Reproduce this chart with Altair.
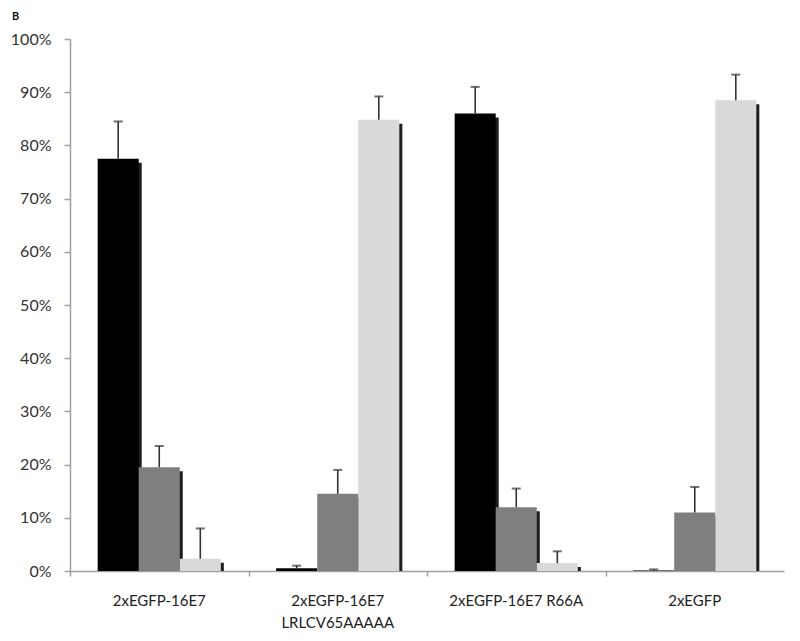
import altair as alt
import pandas as pd

groups = ["2xEGFP-16E7", "2xEGFP-16E7|LRLCV65AAAAA", "2xEGFP-16E7 R66A", "2xEGFP"]
series = ["Series 1", "Series 2", "Series 3"]
colors = ["#000000", "#7f7f7f", "#d9d9d9"]

# values (fraction) per series, ordered by groups
s1_vals = [0.775, 0.005, 0.860, 0.001]
s1_errs = [0.845, 0.010, 0.910, 0.003]
s2_vals = [0.195, 0.145, 0.120, 0.110]
s2_errs = [0.235, 0.190, 0.155, 0.158]
s3_vals = [0.023, 0.848, 0.015, 0.885]
s3_errs = [0.080, 0.892, 0.037, 0.933]

rows = []
for s, vals, errs in zip(series, [s1_vals, s2_vals, s3_vals], [s1_errs, s2_errs, s3_errs]):
    for g, v, e in zip(groups, vals, errs):
        rows.append({"group": g, "series": s, "value": v, "err": e})
df = pd.DataFrame(rows)

FONT = "Lato"
W, H = 714, 532
P_IN, P_OUT = 0.31, 0.155
STEP = W / (len(groups) - P_IN + 2 * P_OUT)
BW = STEP * (1 - P_IN)
SHADOW_DX = 3

x_scale = alt.Scale(paddingInner=P_IN, paddingOuter=P_OUT)


def x_enc(axis):
    return alt.X("group:N", sort=groups, title=None, scale=x_scale, axis=axis)


label_axis = alt.Axis(orient="bottom", labelExpr="split(datum.label, '|')", labelAngle=0,
                      labelFontSize=15, labelColor="#222", labelFont=FONT,
                      labelPadding=22, ticks=False, domainColor="#a0a0a0",
                      domainWidth=1.5, labelLineHeight=22)
tick_axis = alt.Axis(orient="bottom", labels=False, domain=False, ticks=True,
                     bandPosition=0, tickOffset=-P_IN * STEP / 2,
                     tickSize=5, tickColor="#a0a0a0", tickWidth=1.5)

xo_enc = alt.XOffset("series:N", sort=series, scale=alt.Scale(paddingInner=0, paddingOuter=0))
xo_shadow = alt.XOffset("series:N", sort=series,
                        scale=alt.Scale(paddingInner=0, paddingOuter=0,
                                        range=[SHADOW_DX, BW + SHADOW_DX]))
y_enc = alt.Y("value:Q", title=None,
              scale=alt.Scale(domain=[0, 1], nice=False),
              axis=alt.Axis(format="%", values=[i / 10 for i in range(11)], grid=False,
                            labelFontSize=16, labelColor="#333", labelFont=FONT,
                            domainColor="#a0a0a0", domainWidth=1.5, tickColor="#a0a0a0",
                            tickSize=6, tickWidth=1.5, labelPadding=13))
color_enc = alt.Color("series:N", sort=series,
                      scale=alt.Scale(domain=series, range=colors), legend=None)

base = alt.Chart(df)

shadow = base.transform_filter("datum.value > 0.01").mark_bar(
    color="#1e1e1e", yOffset=4
).encode(
    x=x_enc(tick_axis), xOffset=xo_shadow, y=y_enc, y2=alt.datum(0)
)

bars = base.mark_bar().encode(
    x=x_enc(label_axis), xOffset=xo_enc, y=y_enc, color=color_enc
)

stems = base.mark_rule(color="#333333", strokeWidth=1.6).encode(
    x=x_enc(None), xOffset=xo_enc, y="value:Q", y2="err:Q"
)

caps = base.mark_tick(color="#333333", thickness=2, size=9, orient="horizontal").encode(
    x=x_enc(None), xOffset=xo_enc, y="err:Q"
)

label_b = alt.Chart(pd.DataFrame({"t": ["B"]})).mark_text(
    fontWeight="bold", fontSize=11, font=FONT, align="left", baseline="top", color="#111"
).encode(x=alt.value(-58), y=alt.value(-28), text="t:N")

chart = alt.layer(shadow, bars, stems, caps, label_b).resolve_scale(
    xOffset="independent"
).resolve_axis(x="independent").properties(
    width=W, height=H, background="white",
    padding={"left": 2, "top": 3, "right": 5, "bottom": 5}
).configure_view(stroke=None)

chart.save("out.html", embed_options={"renderer": "svg", "actions": False})
